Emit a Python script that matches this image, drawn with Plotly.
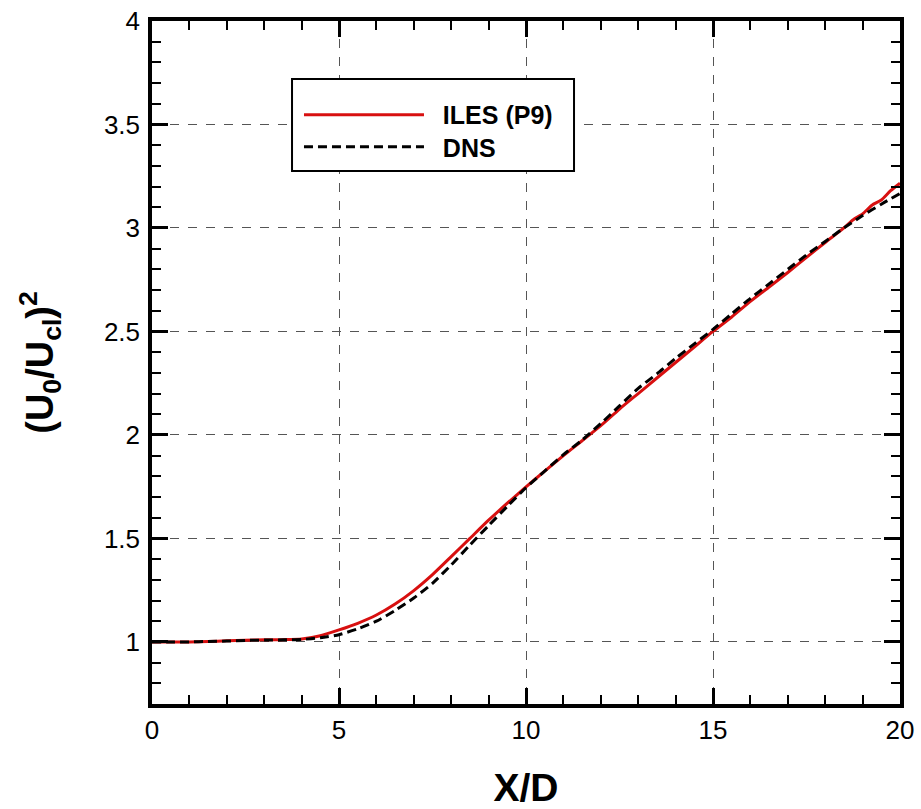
import plotly.graph_objects as go

# ---- data ----
x_iles = [0, 0.5, 1, 1.5, 2, 2.5, 3, 3.5, 4, 4.5, 5, 5.5, 6, 6.5, 7, 7.5, 8, 8.5, 9, 9.5,
          10, 10.5, 11, 11.5, 12, 12.5, 13, 13.5, 14, 14.5, 15, 15.5, 16, 16.5, 17, 17.5,
          18, 18.5, 18.75, 19, 19.25, 19.5, 19.75, 20]
y_iles = [1.000, 1.000, 1.000, 1.002, 1.005, 1.008, 1.010, 1.011, 1.014, 1.030, 1.058, 1.090,
          1.130, 1.183, 1.248, 1.325, 1.412, 1.500, 1.588, 1.670,
          1.749, 1.825, 1.900, 1.972, 2.045, 2.125, 2.200, 2.275, 2.350, 2.425, 2.500, 2.570,
          2.645, 2.715, 2.785, 2.858, 2.930, 3.000, 3.040, 3.068, 3.110, 3.135, 3.180, 3.216]

x_dns = [0, 0.5, 1, 1.5, 2, 2.5, 3, 3.5, 4, 4.5, 5, 5.5, 6, 6.5, 7, 7.5, 8, 8.5, 9, 9.5,
         10, 10.5, 11, 11.5, 12, 12.5, 13, 13.5, 14, 14.5, 15, 15.5, 16, 16.5, 17, 17.5,
         18, 18.5, 19, 19.5, 20]
y_dns = [1.000, 1.000, 1.000, 1.002, 1.004, 1.007, 1.009, 1.010, 1.012, 1.020, 1.035, 1.063,
         1.100, 1.152, 1.212, 1.283, 1.372, 1.468, 1.562, 1.655,
         1.745, 1.825, 1.905, 1.975, 2.055, 2.140, 2.225, 2.295, 2.370, 2.440, 2.510, 2.585,
         2.660, 2.730, 2.800, 2.870, 2.935, 3.000, 3.060, 3.115, 3.167]

x_ticks = [0, 5, 10, 15, 20]
y_ticks = [1, 1.5, 2, 2.5, 3, 3.5, 4]
y_tick_labels = ["1", "1.5", "2", "2.5", "3", "3.5", "4"]

FONT = "Liberation Sans, Arial, sans-serif"

fig = go.Figure()
fig.add_trace(go.Scatter(x=x_iles, y=y_iles, mode="lines", name="&nbsp;&nbsp;ILES (P9)",
                         legend="legend",
                         line=dict(color="#d81010", width=3, shape="spline", smoothing=0.6)))
fig.add_trace(go.Scatter(x=x_dns, y=y_dns, mode="lines", name="&nbsp;&nbsp;DNS",
                         legend="legend2",
                         line=dict(color="black", width=3, dash="9px,5px", shape="spline", smoothing=0.6)))

axis_common = dict(
    showline=True, linecolor="black", linewidth=3.5, mirror="allticks",
    ticks="inside", ticklen=16, tickwidth=3, tickcolor="black",
    showgrid=True, gridcolor="#555555", gridwidth=1, griddash="dash",
    zeroline=False, automargin=False,
    tickfont=dict(family=FONT, size=26, color="black"),
)

fig.update_xaxes(
    range=[0, 20], tickmode="array", tickvals=x_ticks, ticktext=[str(v) for v in x_ticks],
    minor=dict(ticks="inside", ticklen=9, tickwidth=2, tickcolor="black", dtick=1, showgrid=False),
    title=dict(text="<b>X/D</b>", font=dict(family=FONT, size=39, color="black"), standoff=36),
    **axis_common,
)
fig.update_yaxes(
    range=[0.7, 4], tickmode="array", tickvals=y_ticks, ticktext=y_tick_labels,
    minor=dict(ticks="inside", ticklen=9, tickwidth=2, tickcolor="black", dtick=0.1, tick0=0, showgrid=False),
    ticklabelstandoff=3,
    title=dict(text="<b>(U<sub>0</sub>/U<sub>cl</sub>)<sup>2</sup></b>",
               font=dict(family=FONT, size=38, color="black"), standoff=40),
    **axis_common,
)

# legend frame (paper coords)
fig.add_shape(type="rect", xref="paper", yref="paper",
              x0=0.1872, x1=0.5642, y0=0.7804, y1=0.9151,
              line=dict(color="black", width=2), fillcolor="white", layer="above")

legend_common = dict(
    xanchor="left", yanchor="middle",
    bgcolor="rgba(0,0,0,0)", borderwidth=0,
    font=dict(family=FONT, size=25, color="black", weight="bold"),
    itemwidth=120,
)

fig.update_layout(
    width=921, height=809,
    margin=dict(l=152, r=21, t=21, b=105),
    paper_bgcolor="white", plot_bgcolor="white",
    showlegend=True,
    legend=dict(x=0.1965, y=0.8624, **legend_common),
    legend2=dict(x=0.1965, y=0.8155, **legend_common),
)

fig.write_html("out.html", post_script="document.body.style.margin='0';",
               config={"displayModeBar": False})
